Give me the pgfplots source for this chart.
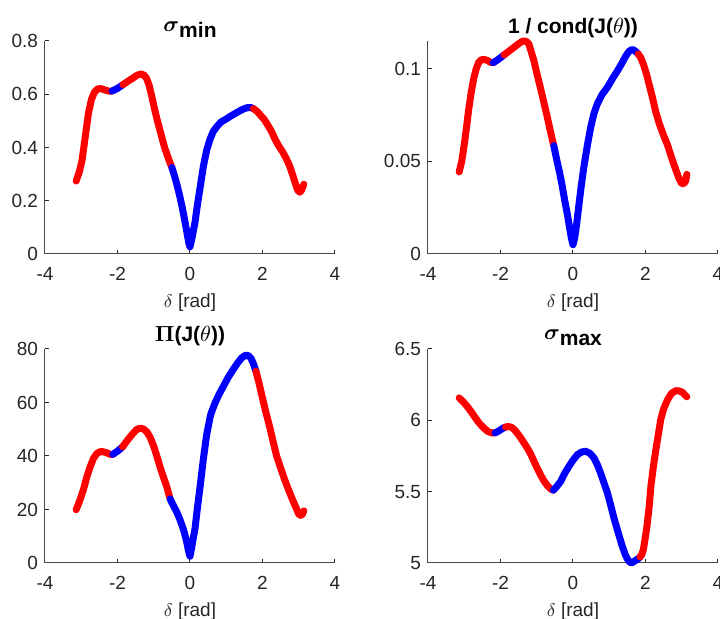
\documentclass[border=0pt]{standalone}
\usepackage{pgfplots}
\pgfplotsset{compat=1.18}
\usepackage{bm}
\usepackage{fontspec}
\setmainfont{Liberation Sans}
\definecolor{axgray}{gray}{0.15}
\DeclareRobustCommand\lowered[1]{\raisebox{-0.55ex}{#1}}
\pgfplotsset{
  mat/.style={
    scale only axis, width=145pt, height=106.5pt,
    xmin=-4, xmax=4, xtick={-4,-2,0,2,4}, xticklabels={-4,-2,0,2,4},
    axis x line*=bottom, axis y line*=left,
    axis line style={-, draw=axgray!85, line width=0.5pt},
    tick align=inside, major tick length=2pt,
    tick style={color=axgray, line width=0.5pt},
    tick label style={font=\fontsize{9.5}{11}\selectfont, text=axgray},
    xticklabel style={yshift=-3pt},
    scaled y ticks=false,
    xlabel={$\delta$ [rad]},
    xlabel style={font=\fontsize{9.5}{11}\selectfont, text=axgray, yshift=0.5pt},
    title style={font=\fontsize{10.5}{12}\selectfont\bfseries, text=black, yshift=-8pt},
    clip=false,
  },
  rd/.style={color=red, line width=3.5pt, line cap=round, line join=round, mark=none},
  bl/.style={color=blue, line width=3.5pt, line cap=round, line join=round, mark=none},
}
\begin{document}
\begin{tikzpicture}
\path[use as bounding box] (0,0) rectangle (360pt,309.5pt);

% ---- sigma_min ----
\begin{axis}[mat, at={(22.5pt,182.5pt)}, anchor=south west,
  ymin=0, ymax=0.8, ytick={0,0.2,0.4,0.6,0.8}, yticklabels={0,0.2,0.4,0.6,0.8},
  title={$\bm{\sigma}$\lowered{min}}]
\addplot[rd] coordinates {(-3.14,0.274) (-3.05,0.31) (-2.98,0.35) (-2.89,0.44) (-2.80,0.53) (-2.72,0.58) (-2.64,0.607) (-2.55,0.62) (-2.45,0.621) (-2.35,0.616) (-2.25,0.612) (-2.15,0.612)};
\addplot[bl] coordinates {(-2.15,0.612) (-2.0,0.622) (-1.85,0.636)};
\addplot[rd] coordinates {(-1.85,0.636) (-1.7,0.65) (-1.56,0.662) (-1.45,0.672) (-1.35,0.676) (-1.27,0.672) (-1.2,0.66) (-1.13,0.635) (-1.05,0.59) (-0.97,0.54) (-0.88,0.49) (-0.8,0.45) (-0.7,0.40) (-0.6,0.36) (-0.5,0.325)};
\addplot[bl] coordinates {(-0.5,0.325) (-0.42,0.29) (-0.35,0.255) (-0.27,0.21) (-0.2,0.165) (-0.13,0.115) (-0.07,0.07) (-0.03,0.04) (0,0.027) (0.04,0.05) (0.09,0.085) (0.14,0.12) (0.2,0.18) (0.28,0.25) (0.37,0.33) (0.46,0.39) (0.55,0.43) (0.64,0.46) (0.75,0.48) (0.85,0.495) (1.0,0.507) (1.1,0.516) (1.25,0.528) (1.38,0.538) (1.5,0.546) (1.6,0.55) (1.68,0.55) (1.75,0.546)};
\addplot[rd] coordinates {(1.75,0.546) (1.85,0.536) (1.95,0.52) (2.05,0.505) (2.15,0.483) (2.25,0.46) (2.35,0.43) (2.45,0.405) (2.55,0.385) (2.65,0.36) (2.75,0.33) (2.85,0.29) (2.93,0.255) (2.98,0.238) (3.03,0.232) (3.08,0.24) (3.14,0.262)};
\end{axis}

% ---- 1/cond ----
\begin{axis}[mat, at={(214pt,182.5pt)}, anchor=south west,
  ymin=0, ymax=0.115, ytick={0,0.05,0.1}, yticklabels={0,0.05,0.1},
  title={1 / cond(J($\theta$))}]
\addplot[rd] coordinates {(-3.14,0.0443) (-3.07,0.05) (-3.0,0.059) (-2.94,0.068) (-2.88,0.0776) (-2.81,0.087) (-2.74,0.0946) (-2.67,0.1) (-2.6,0.1035) (-2.52,0.105) (-2.45,0.105) (-2.36,0.1045) (-2.28,0.1035) (-2.2,0.1033)};
\addplot[bl] coordinates {(-2.2,0.1033) (-2.1,0.1045) (-2.0,0.106) (-1.9,0.1075)};
\addplot[rd] coordinates {(-1.9,0.1075) (-1.8,0.109) (-1.7,0.1105) (-1.6,0.112) (-1.5,0.1135) (-1.4,0.1148) (-1.33,0.115) (-1.27,0.1145) (-1.22,0.1135) (-1.15,0.109) (-1.08,0.1045) (-0.99,0.097) (-0.89,0.089) (-0.8,0.0815) (-0.71,0.074) (-0.62,0.066) (-0.53,0.0585)};
\addplot[bl] coordinates {(-0.53,0.0585) (-0.45,0.051) (-0.37,0.044) (-0.3,0.037) (-0.22,0.028) (-0.16,0.022) (-0.1,0.015) (-0.05,0.009) (0,0.005) (0.05,0.009) (0.1,0.016) (0.16,0.026) (0.23,0.037) (0.3,0.047) (0.4,0.059) (0.49,0.0686) (0.58,0.076) (0.67,0.081) (0.8,0.086) (0.95,0.090) (1.1,0.095) (1.23,0.099) (1.35,0.103) (1.46,0.107) (1.55,0.1095) (1.64,0.1105) (1.72,0.1095) (1.8,0.108)};
\addplot[rd] coordinates {(1.8,0.108) (1.87,0.106) (1.95,0.102) (2.03,0.097) (2.1,0.0915) (2.19,0.0847) (2.28,0.077) (2.38,0.0704) (2.5,0.064) (2.61,0.0587) (2.72,0.052) (2.84,0.0452) (2.93,0.0405) (3.0,0.038) (3.06,0.038) (3.11,0.0395) (3.14,0.043)};
\end{axis}

% ---- Pi ----
\begin{axis}[mat, at={(22.5pt,28pt)}, anchor=south west, height=107pt,
  ymin=0, ymax=80, ytick={0,20,40,60,80}, yticklabels={0,20,40,60,80},
  title={$\bm{\Pi}$(J($\theta$))}]
\addplot[rd] coordinates {(-3.14,19.9) (-3.05,23) (-2.94,27.4) (-2.85,32) (-2.75,36.1) (-2.66,39.2) (-2.57,40.9) (-2.48,41.6) (-2.4,41.6) (-2.3,41.2) (-2.2,40.6) (-2.13,40.6)};
\addplot[bl] coordinates {(-2.13,40.6) (-2.0,41.8) (-1.86,43.4)};
\addplot[rd] coordinates {(-1.86,43.4) (-1.72,46) (-1.6,48) (-1.48,49.8) (-1.38,50.4) (-1.28,50.1) (-1.19,49) (-1.1,47) (-1.01,44) (-0.92,40.2) (-0.83,36.1) (-0.73,32) (-0.64,28.5) (-0.55,24)};
\addplot[bl] coordinates {(-0.55,24) (-0.46,21.5) (-0.37,19.2) (-0.28,16.3) (-0.18,12.5) (-0.1,8.5) (-0.04,4.5) (0,2.5) (0.05,6) (0.1,10) (0.14,13) (0.2,20) (0.28,28.7) (0.37,39) (0.46,48) (0.57,55.5) (0.69,59.8) (0.8,63) (0.92,66) (1.05,69.3) (1.19,72.3) (1.3,74.5) (1.42,76.6) (1.52,77.6) (1.6,77.6) (1.68,76.6) (1.75,74.5) (1.82,71.7)};
\addplot[rd] coordinates {(1.82,71.7) (1.9,67.5) (1.96,64) (2.02,60.5) (2.1,56) (2.2,50.8) (2.3,45) (2.39,40) (2.5,35.5) (2.61,31.2) (2.72,27.3) (2.84,23.3) (2.94,20.2) (3.0,18.3) (3.05,17.8) (3.1,18.2) (3.14,19.5)};
\end{axis}

% ---- sigma_max ----
\begin{axis}[mat, at={(214pt,28pt)}, anchor=south west, height=107pt,
  ymin=5, ymax=6.5, ytick={5,5.5,6,6.5}, yticklabels={5,5.5,6,6.5},
  title={$\bm{\sigma}$\lowered{max}}]
\addplot[rd] coordinates {(-3.14,6.157) (-3.03,6.13) (-2.92,6.098) (-2.8,6.057) (-2.69,6.016) (-2.58,5.978) (-2.46,5.946) (-2.35,5.922) (-2.23,5.911) (-2.15,5.912)};
\addplot[bl] coordinates {(-2.15,5.912) (-2.05,5.925) (-1.95,5.942) (-1.86,5.953)};
\addplot[rd] coordinates {(-1.86,5.953) (-1.78,5.956) (-1.7,5.952) (-1.62,5.935) (-1.54,5.911) (-1.45,5.88) (-1.36,5.845) (-1.26,5.806) (-1.17,5.765) (-1.08,5.715) (-0.99,5.666) (-0.9,5.62) (-0.8,5.575) (-0.7,5.54) (-0.6,5.516) (-0.54,5.51)};
\addplot[bl] coordinates {(-0.54,5.51) (-0.45,5.535) (-0.34,5.572) (-0.23,5.628) (-0.11,5.678) (0,5.72) (0.12,5.759) (0.24,5.778) (0.35,5.783) (0.47,5.768) (0.58,5.736) (0.67,5.69) (0.76,5.631) (0.85,5.565) (0.95,5.491) (1.04,5.405) (1.13,5.315) (1.25,5.21) (1.36,5.117) (1.44,5.06) (1.5,5.028) (1.56,5.008) (1.61,5.0) (1.67,5.008) (1.73,5.019) (1.8,5.03) (1.85,5.042)};
\addplot[rd] coordinates {(1.85,5.042) (1.9,5.06) (1.94,5.093) (1.99,5.17) (2.04,5.257) (2.1,5.39) (2.15,5.54) (2.22,5.68) (2.29,5.80) (2.36,5.91) (2.42,6.005) (2.5,6.08) (2.61,6.145) (2.72,6.19) (2.84,6.208) (2.93,6.206) (3.02,6.196) (3.08,6.18) (3.14,6.165)};
\end{axis}
\end{tikzpicture}
\end{document}
